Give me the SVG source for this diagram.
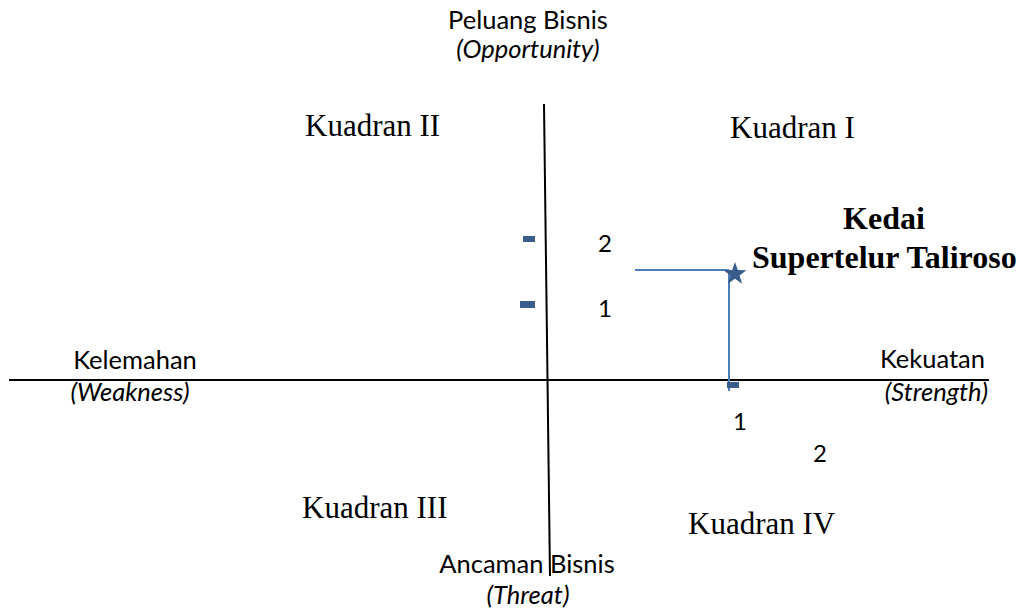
<svg xmlns="http://www.w3.org/2000/svg" width="1025" height="615" viewBox="0 0 1025 615">
<style>
.sans{font-family:Lato,"Open Sans","DejaVu Sans",sans-serif;font-size:25.5px;fill:#000}
.it{font-style:italic}
.num{font-family:Lato,"Open Sans",sans-serif;font-size:24px;fill:#000}
.serif{font-family:"Liberation Serif","Times New Roman",serif;font-size:31px;fill:#000}
.bold{font-weight:bold;font-size:32px}
.axis{stroke:#000;stroke-width:2;fill:none}
.blue{stroke:#4a7ebb;stroke-width:2;fill:none}
.mark{fill:#385d8a}
</style>
<rect width="1025" height="615" fill="#fff"/>
<g id="connectors">
<line class="axis" x1="9" y1="380" x2="989" y2="380"/>
<line class="axis" x1="544" y1="104" x2="550" y2="576"/>
<line class="blue" x1="635" y1="270" x2="729" y2="270"/>
<line class="blue" x1="729" y1="270" x2="729" y2="391"/>
</g>
<g id="ticks">
<rect class="mark" x="523" y="236" width="12" height="6"/>
<rect class="mark" x="520" y="301" width="15" height="7"/>
<rect class="mark" x="727" y="382" width="12" height="6"/>
</g>
<g id="axis-labels">
<text class="sans" x="528" y="29" text-anchor="middle">Peluang Bisnis</text>
<text class="sans it" x="528" y="58" text-anchor="middle">(Opportunity)</text>
<text class="sans" x="135" y="369" text-anchor="middle">Kelemahan</text>
<text class="sans it" x="130" y="401" text-anchor="middle">(Weakness)</text>
<text class="sans" x="985" y="368" text-anchor="end">Kekuatan</text>
<text class="sans it" x="988" y="401" text-anchor="end">(Strength)</text>
<text class="sans" x="527" y="573" text-anchor="middle">Ancaman Bisnis</text>
<text class="sans it" x="528" y="604" text-anchor="middle">(Threat)</text>
</g>
<g id="quadrants">
<text class="serif" x="305" y="136">Kuadran II</text>
<text class="serif" x="730" y="138">Kuadran I</text>
<text class="serif" x="302" y="518">Kuadran III</text>
<text class="serif" x="688" y="534">Kuadran IV</text>
</g>
<g id="scale">
<text class="num" x="605" y="252" text-anchor="middle">2</text>
<text class="num" x="605" y="317" text-anchor="middle">1</text>
<text class="num" x="740" y="430" text-anchor="middle">1</text>
<text class="num" x="820" y="462" text-anchor="middle">2</text>
</g>
<g id="kedai">
<path class="mark" d="M735,262 L737.8,270.1 L746.4,270.3 L739.6,275.5 L742.1,283.7 L735,278.8 L727.9,283.7 L730.4,275.5 L723.6,270.3 L732.2,270.1 Z"/>
<text class="serif bold" x="884" y="229" text-anchor="middle">Kedai</text>
<text class="serif bold" x="752" y="268">Supertelur Taliroso</text>
</g>
</svg>
